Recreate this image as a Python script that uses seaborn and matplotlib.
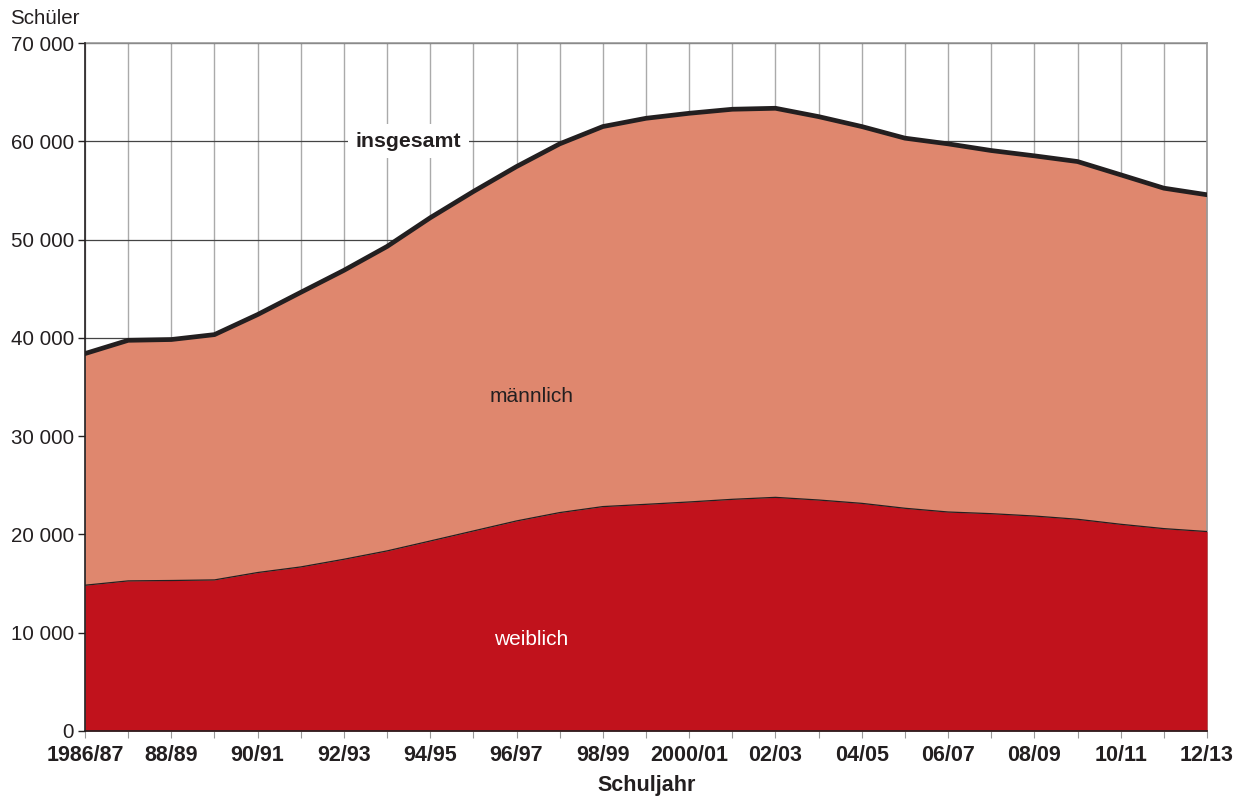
import matplotlib
matplotlib.use("Agg")
import matplotlib.pyplot as plt
import seaborn as sns
import pandas as pd

# school years 1986/87 .. 2012/13
years = ["1986/87", "1987/88", "1988/89", "1989/90", "1990/91", "1991/92", "1992/93",
         "1993/94", "1994/95", "1995/96", "1996/97", "1997/98", "1998/99", "1999/2000",
         "2000/01", "2001/02", "2002/03", "2003/04", "2004/05", "2005/06", "2006/07",
         "2007/08", "2008/09", "2009/10", "2010/11", "2011/12", "2012/13"]
tick_labels = ["1986/87", "", "88/89", "", "90/91", "", "92/93", "", "94/95", "",
               "96/97", "", "98/99", "", "2000/01", "", "02/03", "", "04/05", "",
               "06/07", "", "08/09", "", "10/11", "", "12/13"]

insgesamt = [38400, 39750, 39830, 40330, 42370, 44630, 46870, 49300, 52220, 54890,
             57430, 59740, 61500, 62340, 62850, 63260, 63360, 62510, 61500, 60320,
             59740, 59060, 58520, 57940, 56590, 55230, 54560]
weiblich = [14830, 15270, 15310, 15370, 16120, 16690, 17470, 18320, 19330, 20350,
            21370, 22220, 22830, 23060, 23300, 23570, 23770, 23500, 23160, 22660,
            22280, 22110, 21870, 21540, 21030, 20590, 20290]

df = pd.DataFrame({"jahr": years, "insgesamt": insgesamt, "weiblich": weiblich})
df["pos"] = range(len(df))

sns.set_style("white")
plt.rcParams["font.family"] = ["Liberation Sans", "DejaVu Sans"]

dark = "#231F20"
fig = plt.figure(figsize=(12.41, 7.98), dpi=100)
ax = fig.add_axes([0.0685, 0.084, 0.9041, 0.8621])

ax.fill_between(df["pos"], 0, df["insgesamt"], color="#DF876E", lw=0, zorder=2)
ax.fill_between(df["pos"], 0, df["weiblich"], color="#C1121C", lw=0, zorder=3)
sns.lineplot(data=df, x="pos", y="weiblich", color=dark, lw=0.9, ax=ax, zorder=4)
sns.lineplot(data=df, x="pos", y="insgesamt", color=dark, lw=3.4, ax=ax, zorder=5)

ax.set_xlim(0, len(years) - 1)
ax.set_ylim(0, 70000)
ax.set_xticks(df["pos"])
ax.set_xticklabels(tick_labels, fontsize=15.5, fontweight="bold", color=dark)
yt = list(range(0, 70001, 10000))
ax.set_yticks(yt)
ax.set_yticklabels([f"{v:,}".replace(",", " ") for v in yt], fontsize=14.8, color=dark)
ax.set_xlabel("")
ax.set_ylabel("")

ax.set_axisbelow(True)
ax.grid(axis="x", color="#aaaaaa", lw=1.0)
ax.grid(axis="y", color="#444444", lw=0.9)
ax.tick_params(axis="x", length=5, width=0.8, color="#999999", pad=5, bottom=True)
ax.tick_params(axis="y", length=5, width=1.0, color=dark, pad=3, left=True)

for s in ["left", "bottom"]:
    ax.spines[s].set_color(dark)
    ax.spines[s].set_linewidth(1.2)
for s in ["top", "right"]:
    ax.spines[s].set_color("#999999")
    ax.spines[s].set_linewidth(1.2)
ax.spines["bottom"].set_zorder(6)
ax.spines["left"].set_zorder(6)

ax.text(7.5, 60000, "insgesamt", fontsize=15.3, fontweight="bold", color=dark,
        ha="center", va="center", zorder=7,
        bbox=dict(boxstyle="square,pad=0.35", fc="white", ec="none"))
ax.text(10.34, 34000, "männlich", fontsize=15, color=dark, ha="center", va="center", zorder=7)
ax.text(10.34, 9350, "weiblich", fontsize=15, color="white", ha="center", va="center", zorder=7)

fig.text(10 / 1241, 1 - 18 / 798, "Schüler", fontsize=14.8, color=dark, ha="left", va="center")
fig.text(647 / 1241, 12 / 798, "Schuljahr", fontsize=15.5, fontweight="bold", color=dark,
         ha="center", va="center")

fig.savefig("out.png", dpi=100)
